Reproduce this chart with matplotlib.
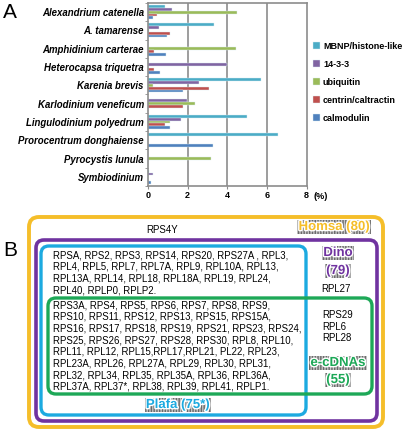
import matplotlib
matplotlib.use('Agg')
import matplotlib.pyplot as plt
from matplotlib.patches import FancyBboxPatch
import matplotlib.patheffects as pe
import numpy as np

plt.rcParams['font.family'] = ['Liberation Sans', 'DejaVu Sans']

# panel A data (% of reads)
species = ['Alexandrium catenella', 'A. tamarense', 'Amphidinium carterae',
           'Heterocapsa triquetra', 'Karenia brevis', 'Karlodinium veneficum',
           'Lingulodinium polyedrum', 'Prorocentrum donghaiense',
           'Pyrocystis lunula', 'Symbiodinium']
series = ['MBNP/histone-like', '14-3-3', 'ubiquitin', 'centrin/caltractin', 'calmodulin']
mbnp = [0.86, 3.33, 0, 0, 5.69, 0, 4.98, 6.57, 0, 0.06]
p1433 = [1.23, 0.56, 0, 4.0, 2.56, 1.99, 1.67, 0, 0, 0.24]
ubiq = [4.49, 0.07, 4.44, 0, 0.27, 2.37, 1.11, 0, 3.16, 0]
centrin = [0.44, 1.13, 0.3, 0.3, 3.08, 1.78, 0.84, 0, 0, 0]
calmod = [0.24, 0.96, 0.89, 0.6, 1.78, 0, 1.13, 3.28, 0, 0.17]
colors = ['#4BACC6', '#8064A2', '#9BBB59', '#C0504D', '#4F81BD']
xticks = [0, 2, 4, 6, 8]

# panel B text
rps4y = 'RPS4Y'
plafa_only = ['RPSA, RPS2, RPS3, RPS14, RPS20, RPS27A , RPL3,',
              'RPL4, RPL5, RPL7, RPL7A, RPL9, RPL10A, RPL13,',
              'RPL13A, RPL14, RPL18, RPL18A, RPL19, RPL24,',
              'RPL40, RPLP0, RPLP2.']
shared = ['RPS3A, RPS4, RPS5, RPS6, RPS7, RPS8, RPS9,',
          'RPS10, RPS11, RPS12, RPS13, RPS15, RPS15A,',
          'RPS16, RPS17, RPS18, RPS19, RPS21, RPS23, RPS24,',
          'RPS25, RPS26, RPS27, RPS28, RPS30, RPL8, RPL10,',
          'RPL11, RPL12, RPL15,RPL17,RPL21, PL22, RPL23,',
          'RPL23A, RPL26, RPL27A, RPL29, RPL30, RPL31,',
          'RPL32, RPL34, RPL35, RPL35A, RPL36, RPL36A,',
          'RPL37A, RPL37*, RPL38, RPL39, RPL41, RPLP1.']
dino_only = ['RPL27']
dino_ecdna = ['RPS29', 'RPL6', 'RPL28']

W, H = 406, 430
fig = plt.figure(figsize=(W / 100, H / 100), dpi=100)

# ---- panel A ----
ax = fig.add_axes([148 / W, 1 - 186 / H, (306.7 - 148) / W, 183 / H])
bw = 1 / 6.5
y = np.arange(len(species))
for j, (vals, c, lab) in enumerate(zip([mbnp, p1433, ubiq, centrin, calmod], colors, series)):
    ax.barh(y - 2 * bw + j * bw, vals, height=bw, color=c, label=lab,
            edgecolor='#dcecf2', linewidth=0.3)
ax.set_xlim(0, 8)
ax.set_ylim(len(species) - 0.5, -0.5)
ax.set_xticks(xticks)
ax.set_xticklabels([str(t) for t in xticks], fontsize=6.5, fontweight='bold')
ax.set_yticks(y)
ax.set_yticklabels(species, fontsize=6.9, fontweight='bold', fontstyle='italic')
ax.set_yticks(np.arange(len(species) + 1) - 0.5, minor=True)
ax.tick_params(axis='y', which='major', length=0, pad=3)
ax.tick_params(axis='y', which='minor', length=2.5, color='#8c8c8c')
ax.tick_params(axis='x', length=2.5, color='#8c8c8c', pad=1)
for t in xticks[1:-1]:
    ax.axvline(t, color='#8c8c8c', lw=1.2, zorder=0)
for s in ax.spines.values():
    s.set_color('#8c8c8c')
    s.set_linewidth(1.2)
ax.annotate('(%)', xy=(8, 0), xycoords=('data', 'axes fraction'), xytext=(5, -7.5),
            textcoords='offset points', fontsize=6.5, fontweight='bold',
            va='center', ha='left')
fig.legend(loc='upper left', bbox_to_anchor=(309 / W, 1 - 38 / H), frameon=False,
           prop={'size': 6.5, 'weight': 'bold'}, handlelength=0.8, handleheight=0.8,
           handletextpad=0.35, labelspacing=1.0, borderaxespad=0)

# ---- panel B (pixel coordinates) ----
bx = fig.add_axes([0, 0, 1, 1])
bx.set_xlim(0, W)
bx.set_ylim(H, 0)
bx.axis('off')
bx.patch.set_alpha(0)

fig.text(3 / W, 1 - 13 / H, 'A', fontsize=15, va='center', ha='left')
fig.text(3 / W, 1 - 251 / H, 'B', fontsize=15, va='center', ha='left')


def rbox(x0, y0, x1, y1, col, lw=2.6, r=8):
    bx.add_patch(FancyBboxPatch((x0 + r, y0 + r), x1 - x0 - 2 * r, y1 - y0 - 2 * r,
                                boxstyle='round,pad=%g' % r, fc='none', ec=col, lw=lw))


rbox(29, 217, 383, 427, '#F5BE2A', lw=2.8, r=10)
rbox(36, 240, 377, 421, '#7033A0', lw=2.6)
rbox(41, 246, 306, 415, '#1CAAE0', lw=2.4)
rbox(48, 298, 372, 394, '#1DA857', lw=2.4)

tfs = 6.95
bx.text(162, 230, rps4y, fontsize=tfs, ha='center', va='center')
for i, line in enumerate(plafa_only):
    bx.text(53, 255 + i * 11.7, line, fontsize=tfs, ha='left', va='center')
for i, line in enumerate(shared):
    bx.text(53, 305 + i * 11.7, line, fontsize=tfs, ha='left', va='center')
bx.text(321, 289, dino_only[0], fontsize=tfs, ha='left', va='center')
for i, line in enumerate(dino_ecdna):
    bx.text(322, 315 + i * 11.7, line, fontsize=tfs, ha='left', va='center')

glow = [pe.withStroke(linewidth=2, foreground='white')]


def setlabel(xc, yc, s, col, size=9.5):
    bx.text(xc, yc, s, fontsize=size, fontweight='bold', color=col, ha='center',
            va='center', path_effects=glow,
            bbox=dict(boxstyle='square,pad=0.1', fc='#c4c4c4', ec='#6a6a6a', lw=0,
                      hatch='||||||'))


setlabel(334, 227, 'Homsa (80)', '#F5BE2A')
setlabel(338, 253, 'Dino', '#7033A0')
setlabel(338, 271, '(79)', '#7033A0')
setlabel(338, 363, 'e-cDNAs', '#1DA857')
setlabel(338, 380, '(55)', '#1DA857')
setlabel(178, 405, 'Plafa (75*)', '#1CAAE0')

fig.savefig('out.png', dpi=100)
